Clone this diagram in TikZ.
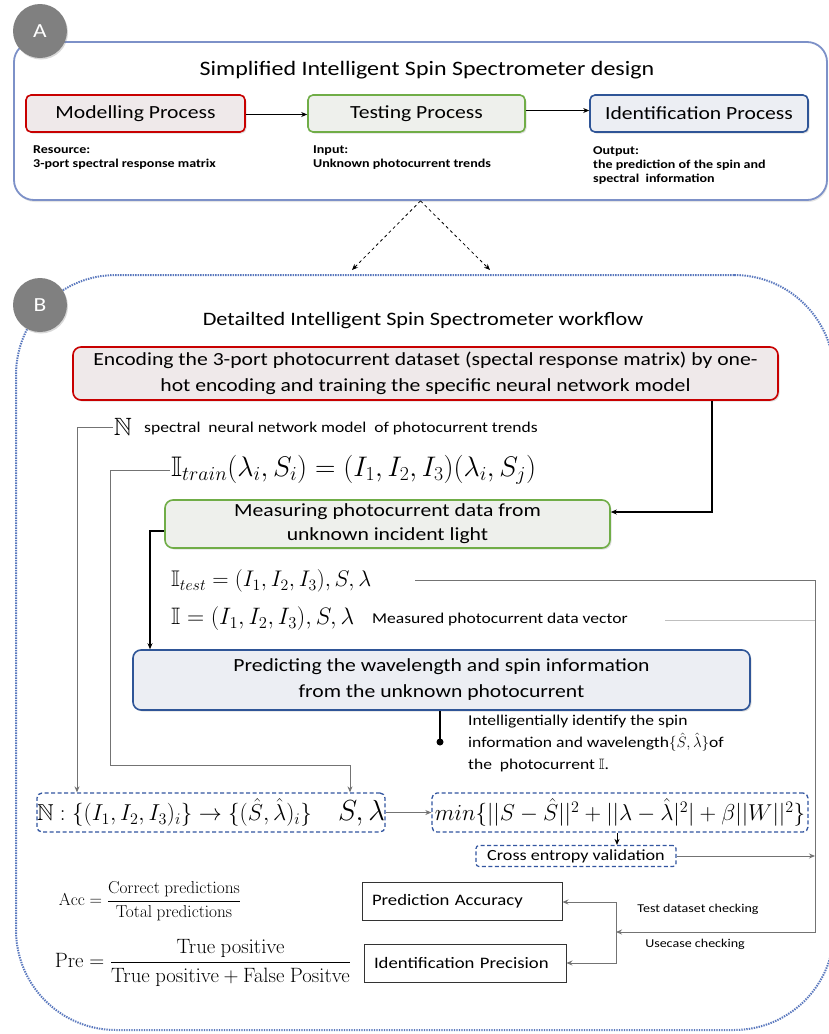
\RequirePackage{fix-cm}
\documentclass[tikz,border=0pt]{standalone}
\usepackage{amsmath,amssymb}
\DeclareFontFamily{U}{msb}{}
\DeclareFontShape{U}{msb}{m}{n}{<-6>msbm5<6-8>msbm7<8->msbm10}{}
\usepackage[no-math]{fontspec}
\setmainfont{Carlito}[FakeStretch=1.17]
\usetikzlibrary{arrows.meta,shadows,calc}
\definecolor{Ablue}{RGB}{125,145,200}
\definecolor{Bblue}{RGB}{90,120,190}
\definecolor{Dblue}{RGB}{50,85,160}
\definecolor{cRed}{RGB}{200,0,0}
\definecolor{cGreen}{RGB}{112,173,71}
\definecolor{cBlue}{RGB}{47,85,151}
\definecolor{fRed}{RGB}{239,233,234}
\definecolor{fGreen}{RGB}{238,240,236}
\definecolor{fBlue}{RGB}{236,238,243}
\definecolor{circ}{RGB}{128,128,128}
\begin{document}
\begin{tikzpicture}[x=1pt,y=-1pt,
  shadowed/.style={drop shadow={opacity=0.25,shadow xshift=1.5pt,shadow yshift=-1.5pt}},
  procbox/.style={draw,line width=1.6pt,rounded corners=5pt,minimum height=37pt,
     font=\fontsize{18.5}{22}\selectfont,shadowed},
  bigbox/.style={draw,line width=1.6pt,rounded corners=8pt,align=center,
     font=\fontsize{18.5}{26}\selectfont,shadowed},
  letter/.style={circle,fill=circ,text=white,minimum size=54pt,inner sep=0pt,
     font=\fontsize{20}{20}\selectfont,drop shadow={opacity=0.3,shadow xshift=1pt,shadow yshift=-1.5pt}},
  small/.style={anchor=north west,align=left,inner sep=0pt,font=\fontsize{12}{14}\selectfont\bfseries},
  dbox/.style={draw=Dblue,line width=1.3pt,dash pattern=on 4pt off 2.5pt,rounded corners=5pt},
  plainbox/.style={draw=black!80,line width=0.9pt,fill=white,inner sep=0pt,text width=200pt,align=left,
     font=\fontsize{16}{16}\selectfont},
  arr/.style={-{Stealth[length=6pt,width=5pt]}},
  thk/.style={line width=1.5pt,black},
  bline/.style={line width=0.8pt,black},
  gline/.style={line width=0.9pt,black!55},
  lgline/.style={line width=1pt,black!25},
  txt/.style={font=\fontsize{15}{22}\selectfont,inner sep=0pt}
]
\useasboundingbox (0,0) rectangle (829,1034);
\fill[white] (0,0) rectangle (829,1034);

% ---------- Box A ----------
\node[draw=Ablue,line width=1.8pt,rounded corners=20pt,minimum width=813pt,minimum height=158pt,
      drop shadow={opacity=0.2,shadow xshift=1pt,shadow yshift=-2pt},fill=white] (boxA) at (420.5,121) {};
\node[letter] (cA) at (40,31) {A};
\node[font=\fontsize{20.5}{22}\selectfont] (titleA) at (427,70) {Simplified Intelligent Spin Spectrometer design};

\node[procbox,draw=cRed,fill=fRed,minimum width=219pt] (mp) at (135.5,113.5) {Modelling Process};
\node[procbox,draw=cGreen,fill=fGreen,minimum width=217pt] (tp) at (416.5,113.5) {Testing Process};
\node[procbox,draw=cBlue,fill=fBlue,minimum width=218pt] (ip) at (699,113.5) {Identification Process};
\draw[bline,arr] ($(mp.east)+(0,1)$) -- ($(tp.west)+(0,1)$);
\draw[bline,arr] ($(tp.east)+(0,-3)$) -- ($(ip.west)+(0,-3)$);

\node[small] (res) at (33,146) {Resource:\\3-port spectral response matrix};
\node[small] (inp) at (313,146) {Input:\\Unknown photocurrent trends};
\node[small] (out) at (593,146) {Output:\\the prediction of the spin and\\spectral\ \ information};

% ---------- Box B ----------
\node[draw=Bblue,line width=2pt,dash pattern=on 1.4pt off 1.1pt,rounded corners=100pt,
      minimum width=818pt,minimum height=755pt] (boxB) at (425,652.5) {};
\node[letter] (cB) at (40,305) {B};
\coordinate (bin1) at (352,270);
\coordinate (bin2) at (490,270);
\draw[bline,dashed,arr] (boxA.south) -- (bin1);
\draw[bline,dashed,arr] (boxA.south) -- (bin2);

\node[font=\fontsize{19}{22}\selectfont] (titleB) at (423,321) {Detailted Intelligent Spin Spectrometer workflow};

\node[bigbox,draw=cRed,fill=fRed,minimum width=705pt,minimum height=53pt] (enc) at (425.5,373.5)
  {Encoding the 3-port photocurrent dataset (spectal response matrix) by one-\\hot encoding and training the specific neural network model};

\node[font=\fontsize{25}{25}\selectfont,inner sep=1pt] (Nsym) at (123,427) {$\mathbb{N}$};
\node[txt,anchor=west] (Ntext) at (144,428) {spectral\ \ neural network model\ \ of photocurrent trends};

\node[anchor=west,font=\fontsize{28.3}{28}\selectfont,inner sep=1pt] (Itrain) at (170,470)
  {$\mathbb{I}_{train}(\lambda_i,S_i)=(I_1,I_2,I_3)(\lambda_i,S_j)$};

\node[bigbox,draw=cGreen,fill=fGreen,minimum width=445pt,minimum height=48pt,
      font=\fontsize{18.5}{24}\selectfont] (meas) at (387.5,524)
  {Measuring photocurrent data from\\unknown incident light};

\node[anchor=west,font=\fontsize{22.6}{23}\selectfont,inner sep=1pt] (Itest) at (170,581)
  {$\mathbb{I}_{test}=(I_1,I_2,I_3),S,\lambda$};
\node[anchor=west,font=\fontsize{23.8}{24}\selectfont,inner sep=1pt] (Ivec) at (170,619)
  {$\mathbb{I}=(I_1,I_2,I_3),S,\lambda$};
\node[txt,anchor=west] (Ivectext) at (372,619) {Measured photocurrent data vector};

\node[bigbox,draw=cBlue,fill=fBlue,minimum width=617pt,minimum height=60pt,
      font=\fontsize{18.5}{26}\selectfont] (pred) at (441.5,680)
  {Predicting the wavelength and spin information\\from the unknown photocurrent};

\node[txt,anchor=north west,align=left] (intel) at (468,715)
  {Intelligentially identify the spin\\information and wavelength$\{\hat S,\hat\lambda\}$of\\the\ \ photocurrent $\mathbb{I}$.};

\node[dbox,minimum height=39pt,inner sep=0pt,text width=348pt,align=left] (box1) at (211,812.5)
  {\fontsize{23}{23}\selectfont$\mathbb{N}:\{(I_1,I_2,I_3)_i\}\rightarrow\{(\hat S,\hat\lambda)_i\}$\hfill{\fontsize{29}{29}\selectfont$S,\lambda$}\hspace*{3pt}};
\node[dbox,minimum width=376pt,minimum height=39pt,inner sep=0pt] (box2) at (620,812.5)
  {\fontsize{23}{23}\selectfont$min\{||S-\hat S||^2+||\lambda-\hat\lambda|^2|+\beta||W||^2\}$};

\node[dbox,line width=1.2pt,rounded corners=3pt,minimum width=200pt,minimum height=21pt,inner sep=0pt,
      font=\fontsize{15.5}{16}\selectfont] (ce) at (576,856) {Cross entropy validation};

\node[font=\fontsize{17.28}{17}\selectfont,inner sep=0pt] (acc) at (150,901)
  {$\displaystyle \mathrm{Acc}=\frac{\mathrm{Correct\ predictions}}{\mathrm{Total\ predictions}}$};
\node[font=\fontsize{20.74}{21}\selectfont,inner sep=0pt] (pre) at (203,963)
  {$\displaystyle \mathrm{Pre}=\frac{\mathrm{True\ positive}}{\mathrm{True\ positive}+\mathrm{False\ Positve}}$};

\node[plainbox,minimum height=38pt] (pa) at (462,901) {\hspace*{10pt}Prediction Accuracy};
\node[plainbox,text width=202pt,minimum height=38pt] (ipr) at (465,963) {\hspace*{10pt}Identification Precision};

\node[font=\fontsize{12}{12}\selectfont] (tdc) at (698,909) {Test dataset checking};
\node[font=\fontsize{12}{12}\selectfont] (ucc) at (695,944) {Usecase checking};

% ---------- connectors ----------
\coordinate (c1) at (712,512);
\draw[thk,arr] (enc.south -| c1) -- (c1) -- (meas.east |- c1);

\coordinate (g1) at (150,531);
\draw[thk,arr] (meas.west |- g1) -- (g1) -- (g1 |- pred.north);

\coordinate (d1) at (440,742);
\draw[thk] (pred.south -| d1) -- (d1);
\fill (d1) circle (3.5pt);

\coordinate (n1) at (77,427);
\draw[gline,arr] (Nsym.west) -- (n1) -- (n1 |- box1.north);

\coordinate (t1) at (110,470);
\coordinate (t2) at (110,765);
\coordinate (t3) at (350,765);
\draw[gline,arr] (Itrain.west) -- (t1) -- (t2) -- (t3) -- (t3 |- box1.north);

\coordinate (r0) at (415,580);
\coordinate (r1) at (815,580);
\coordinate (r2) at (815,932);
\coordinate (k1) at (616,932);
\draw[gline,arr] (r0) -- (r1) -- (r2) -- (k1);

\coordinate (v0) at (665,620);
\draw[lgline] (v0) -- (v0 -| r1);

\draw[gline,arr] (box1.east) -- (box2.west);
\coordinate (b2) at (617,832);
\draw[bline,arr] (box2.south -| b2) -- (ce.north -| b2);
\draw[gline,arr] (ce.east) -- (ce.east -| r1);

\coordinate (k0) at (616,902);
\coordinate (k2) at (616,963);
\draw[gline,{Stealth[length=6pt,width=5pt]}-{Stealth[length=6pt,width=5pt]}] (pa.east |- k0) -- (k0) -- (k2) -- (ipr.east |- k2);
\end{tikzpicture}
\end{document}
